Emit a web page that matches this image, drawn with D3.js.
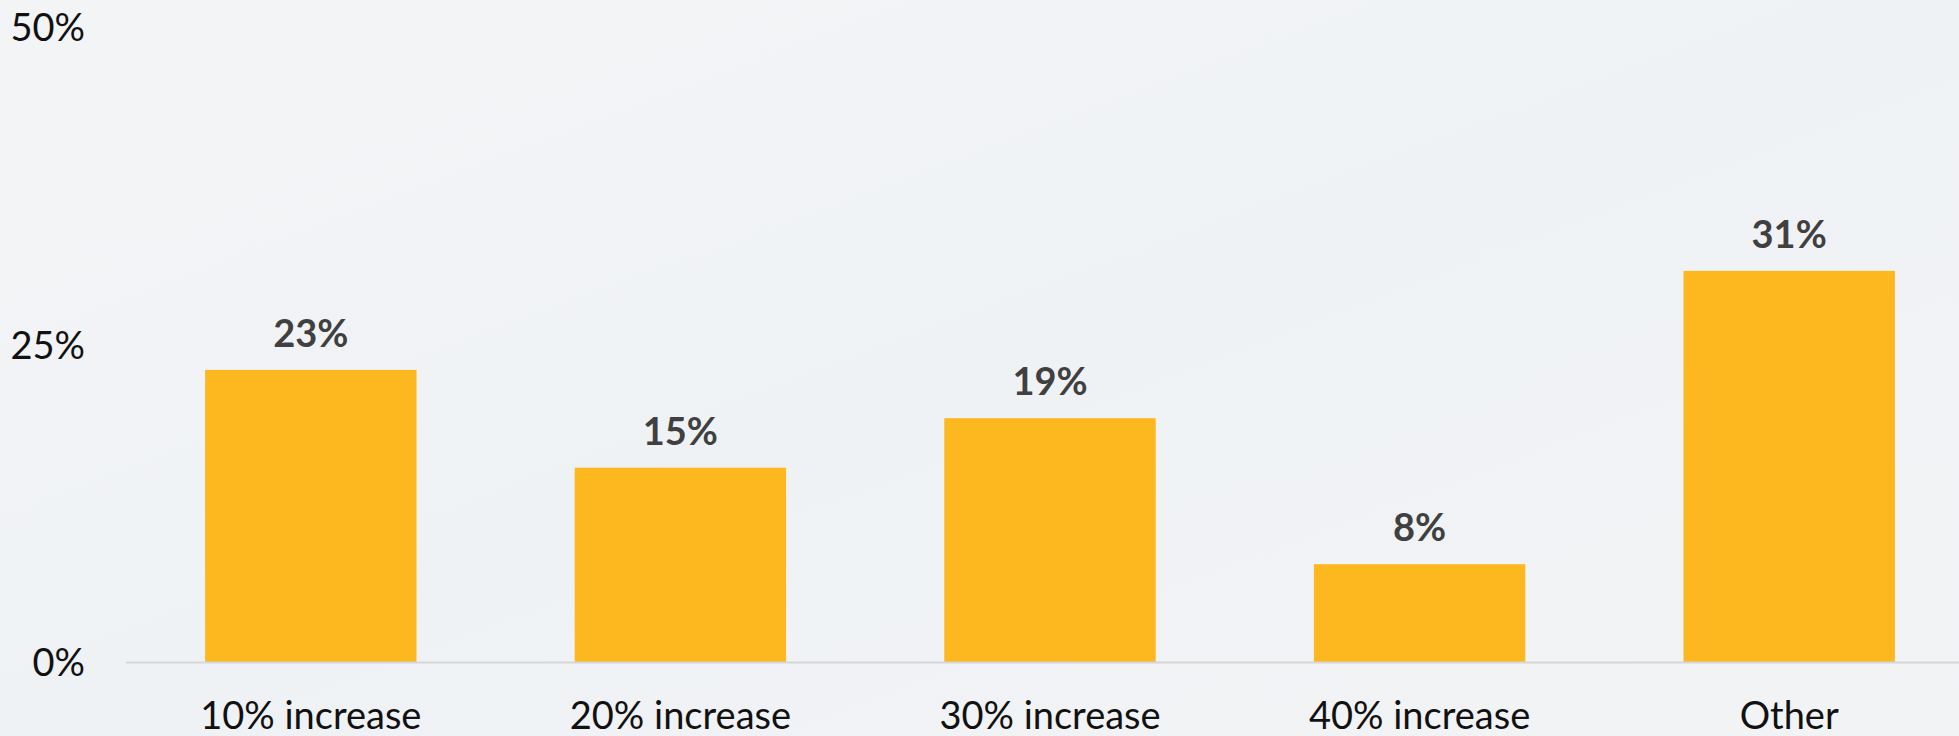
<!DOCTYPE html>
<html>
<head>
<meta charset="utf-8">
<script src="https://cdn.jsdelivr.net/npm/d3@7"></script>
<style>
  html, body { margin: 0; padding: 0; background: #f1f3f5; }
  svg { display: block; }
</style>
</head>
<body>
<svg id="chart" width="1959" height="736"></svg>
<script>
const categories = ["10% increase", "20% increase", "30% increase", "40% increase", "Other"];
const values = [0.23, 0.153, 0.192, 0.077, 0.308];
const yTicks = [0, 0.25, 0.5];

const W = 1959, H = 736;
const svg = d3.select("#chart");

// background
const defs = svg.append("defs");
const grad = defs.append("linearGradient").attr("id", "bg").attr("x1", "0").attr("y1", "0").attr("x2", "1").attr("y2", "1");
grad.append("stop").attr("offset", "0").attr("stop-color", "#f3f4f6");
grad.append("stop").attr("offset", "0.5").attr("stop-color", "#eff2f5");
grad.append("stop").attr("offset", "1").attr("stop-color", "#f2f3f5");
svg.append("rect").attr("width", W).attr("height", H).attr("fill", "url(#bg)");

const x = d3.scaleBand()
  .domain(categories)
  .range([126, 1974])
  .paddingInner(0.428)
  .paddingOuter(0.214);

const y = d3.scaleLinear().domain([0, 0.5]).range([662, 27]);

// bars
svg.append("g").selectAll("rect")
  .data(categories)
  .join("rect")
  .attr("x", d => x(d))
  .attr("width", x.bandwidth())
  .attr("y", (d, i) => y(values[i]))
  .attr("height", (d, i) => y(0) - y(values[i]))
  .attr("fill", "#fdb81f");

// baseline
svg.append("line")
  .attr("x1", 126).attr("x2", W)
  .attr("y1", y(0) + 0.5).attr("y2", y(0) + 0.5)
  .attr("stroke", "#d6d6d6").attr("stroke-width", 2);

// y axis
const yAxis = d3.axisLeft(y).tickValues(yTicks).tickFormat(d3.format(".0%")).tickSize(0).tickPadding(0);
const gy = svg.append("g").attr("transform", "translate(85,0)").call(yAxis);
gy.select(".domain").remove();
gy.selectAll("text")
  .attr("font-family", "Lato, sans-serif")
  .attr("font-size", 38)
  .attr("fill", "#111")
  .attr("dy", "0.36em");

// x axis labels
const xAxis = d3.axisBottom(x).tickSize(0).tickPadding(0);
const gx = svg.append("g").attr("transform", "translate(0,729)").call(xAxis);
gx.select(".domain").remove();
gx.selectAll("text")
  .attr("font-family", "Lato, sans-serif")
  .attr("font-size", 38)
  .attr("fill", "#111")
  .attr("y", 0)
  .attr("dy", 0);

// value labels
svg.append("g").selectAll("text")
  .data(categories)
  .join("text")
  .attr("x", d => x(d) + x.bandwidth() / 2)
  .attr("y", (d, i) => y(values[i]) - 23)
  .attr("text-anchor", "middle")
  .attr("font-family", "Lato, sans-serif")
  .attr("font-weight", "bold")
  .attr("font-size", 38)
  .attr("fill", "#404040")
  .text((d, i) => d3.format(".0%")(values[i]));
</script>
</body>
</html>
